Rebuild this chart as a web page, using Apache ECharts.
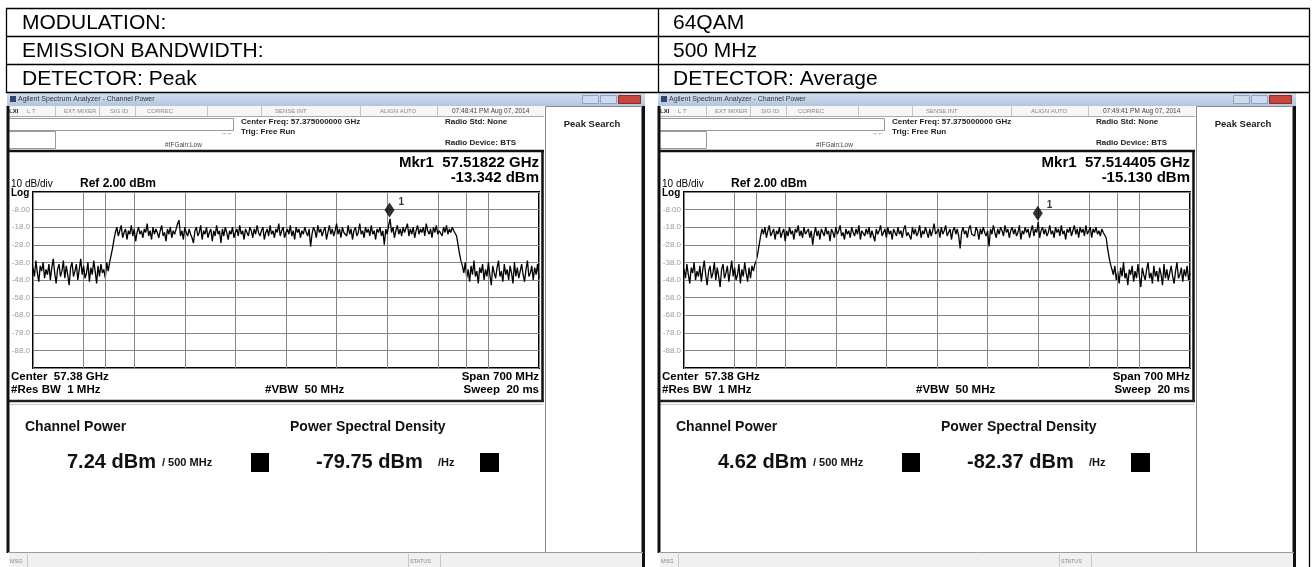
<!DOCTYPE html>
<html><head><meta charset="utf-8">
<script src="https://cdn.jsdelivr.net/npm/echarts@6/dist/echarts.min.js"></script>
<style>html,body{margin:0;padding:0;background:#fff}#c{width:1314px;height:567px}</style>
</head><body><div id="c"></div>
<script>
// ---------- DATA ----------
const headerLeft = ['MODULATION:', 'EMISSION BANDWIDTH:', 'DETECTOR: Peak'];
const headerRight = ['64QAM', '500 MHz', 'DETECTOR: Average'];
const centerMHz = 57375;
const spanMHz = 700;
const freqStartMHz = 57025;
const freqStepMHz = 2;
const integBwMHz = 500;
const refLevel = 2;
const dbPerDiv = 10;
const yTickLabels = ['-8.00', '-18.0', '-28.0', '-38.0', '-48.0', '-58.0', '-68.0', '-78.0', '-88.0'];

// Peak detector trace (dBm), 351 points, 2 MHz apart across the 700 MHz span
const peakTrace = [
  -41,-46,-37,-44,-49,-40,-43,-38,-47,-42,
  -45,-39,-48,-41,-36,-44,-50,-42,-39,-46,
  -43,-37,-47,-40,-45,-51,-41,-38,-46,-43,
  -39,-48,-42,-36,-45,-40,-47,-44,-38,-49,
  -41,-45,-37,-43,-50,-40,-46,-39,-44,-42,
  -47,-38,-43,
  -38,-34,-30,-25,-21,
  -18,-23,-20,-17,-24,-21,-19,-25,-20,-22,
  -17,-23,-19,-26,-21,-18,-22,-20,-24,-19,
  -21,-16,-23,-20,-25,-18,-22,-19,-21,-24,
  -20,-17,-23,-21,-26,-19,-22,-18,-24,-20,
  -22,-19,-16,-14,-23,-20,-25,-18,-21,-23,
  -19,-22,-24,-27,-20,-18,-23,-21,-17,-25,
  -20,-22,-18,-24,-21,-19,-26,-20,-23,-17,
  -22,-20,-27,-19,-23,-18,-21,-25,-20,-22,
  -18,-24,-21,-19,-23,-17,-22,-20,-25,-19,
  -21,-23,-18,-20,-24,-19,-22,-17,-21,-23,
  -20,-18,-25,-21,-19,-23,-17,-22,-20,-24,
  -19,-21,-16,-23,-20,-18,-24,-21,-19,-22,
  -17,-23,-20,-25,-18,-21,-19,-24,-20,-22,
  -18,-21,-23,-19,-29,-22,-18,-20,-24,-17,
  -21,-19,-23,-20,-18,-25,-21,-17,-22,-19,
  -23,-20,-16,-22,-19,-24,-18,-21,-20,-23,
  -17,-22,-19,-25,-20,-18,-23,-21,-16,-22,
  -20,-24,-18,-21,-19,-23,-17,-22,-20,-25,
  -19,-21,-18,-23,-20,-28,-19,-22,-17,-13.3,
  -21,-18,-24,-20,-17,-22,-19,-23,-18,-21,
  -20,-16,-23,-19,-22,-18,-24,-20,-17,-22,
  -19,-21,-18,-23,-16,-20,-22,-19,-24,-18,
  -21,-17,-22,-20,-19,-23,-18,-21,-17,-22,
  -19,-21,-18,-20,-19,
  -23,-28,-33,-37,-40,
  -44,-38,-47,-42,-49,-40,-45,-37,-46,-43,
  -50,-41,-44,-39,-48,-42,-46,-38,-45,-51,
  -40,-44,-47,-41,-37,-46,-43,-49,-39,-45,
  -42,-48,-40,-44,-50,-38,-46,-41,-47,-43,
  -39,-45,-49,-42,-37,-46,-44,-40,-48,-41,
  -45,-39,-47
];

// Average detector trace (dBm), 351 points, 2 MHz apart across the 700 MHz span
const avgTrace = [
  -42,-47,-39,-45,-50,-41,-44,-38,-48,-43,
  -46,-40,-49,-42,-37,-45,-51,-43,-40,-47,
  -44,-38,-48,-41,-46,-52,-42,-39,-47,-44,
  -40,-49,-43,-37,-46,-41,-48,-45,-39,-50,
  -42,-46,-38,-44,-49,-41,-47,-40,-43,-39,
  -37,-33,-28,-23,-19,
  -22,-18,-24,-20,-17,-23,-21,-19,-25,-20,
  -22,-18,-24,-21,-19,-26,-20,-23,-18,-22,
  -20,-25,-19,-21,-17,-23,-20,-24,-18,-22,
  -21,-19,-24,-20,-28,-22,-18,-23,-20,-25,
  -19,-21,-23,-18,-22,-20,-26,-19,-21,-24,
  -18,-22,-20,-17,-23,-21,-25,-19,-22,-20,
  -24,-18,-21,-23,-19,-22,-17,-25,-20,-21,
  -23,-19,-22,-18,-24,-20,-21,-26,-19,-22,
  -20,-17,-23,-21,-19,-24,-18,-22,-20,-25,
  -19,-21,-23,-18,-22,-20,-24,-19,-17,-23,
  -21,-20,-25,-18,-22,-19,-23,-21,-17,-24,
  -20,-22,-18,-21,-24,-19,-23,-20,-16,-22,
  -21,-19,-24,-18,-22,-20,-17,-23,-21,-19,
  -25,-20,-18,-22,-19,-23,-30,-21,-18,-22,
  -20,-24,-19,-17,-22,-21,-23,-18,-20,-25,
  -19,-22,-18,-21,-23,-20,-29,-19,-22,-17,
  -21,-24,-19,-22,-18,-20,-23,-17,-21,-19,
  -24,-20,-18,-22,-19,-23,-21,-17,-25,-20,
  -22,-18,-21,-19,-24,-20,-17,-23,-19,-21,
  -15.1,-24,-20,-18,-22,-19,-23,-21,-17,-22,
  -20,-24,-18,-21,-19,-23,-17,-22,-20,-25,
  -19,-21,-18,-23,-20,-17,-22,-19,-24,-18,
  -21,-19,-23,-17,-22,-20,-18,-24,-19,-21,
  -18,-22,-20,-23,-19,-21,-20,
  -24,-30,-35,-39,-42,
  -45,-40,-48,-43,-50,-41,-46,-38,-47,-44,
  -51,-42,-45,-40,-49,-43,-47,-39,-46,-52,
  -41,-45,-48,-42,-38,-47,-44,-50,-40,-46,
  -43,-49,-41,-45,-51,-39,-47,-42,-48,-44,
  -40,-46,-50,-43,-38,-47,-45,-41,-49,-42,
  -46,-40,-48,-44
];

const markerFreqMHz = [57518.22, 57514.405];
const markerLevel = [-13.342, -15.130];
const markerFreqText = ['57.51822 GHz', '57.514405 GHz'];
const markerLevelText = ['-13.342 dBm', '-15.130 dBm'];
const timestamps = ['07:48:41 PM Aug 07, 2014', '07:49:41 PM Aug 07, 2014'];
const channelPower = ['7.24 dBm', '4.62 dBm'];
const powerSpectralDensity = ['-79.75 dBm', '-82.37 dBm'];
const statusItems = ['L T', 'EXT MIXER', 'SIG ID', 'CORREC', 'SENSE:INT', 'ALIGN AUTO'];

// ---------- LAYOUT ----------
const FONT = '"Liberation Sans", Arial, Helvetica, sans-serif';
const panelX = [0, 651];
const GRID = { left: 33, top: 192, width: 506, height: 176 };

function txt(x, y, s, size, o) {
  o = o || {};
  return { type: 'text', x: x, y: y, silent: true, z: 20,
    style: { text: s, font: (o.bold ? 'bold ' : '') + size + 'px ' + FONT, fill: o.color || '#000',
      textAlign: o.align || 'left', textVerticalAlign: 'middle' } };
}
function rect(x, y, w, h, fill, stroke, lw, z) {
  return { type: 'rect', silent: true, z: z == null ? 5 : z, shape: { x: x, y: y, width: w, height: h },
    style: { fill: fill || 'rgba(0,0,0,0)', stroke: stroke || null, lineWidth: lw || 1 } };
}
function line(x1, y1, x2, y2, color, lw, z) {
  return { type: 'line', silent: true, z: z == null ? 6 : z, shape: { x1: x1, y1: y1, x2: x2, y2: y2 },
    style: { stroke: color, lineWidth: lw || 1 } };
}

const elements = [];
// header table
[8.5, 36.5, 64.5, 92.5].forEach(y => elements.push(line(6, y, 1310, y, '#000', 1.3)));
elements.push(line(6.5, 8, 6.5, 93, '#000', 1.3));
elements.push(line(658.5, 8, 658.5, 93, '#000', 1.3));
elements.push(line(1309.5, 8, 1309.5, 567, '#000', 1.3));
headerLeft.forEach((s, i) => elements.push(txt(22, 23 + i * 28, s, 21)));
headerRight.forEach((s, i) => elements.push(txt(673, 23 + i * 28, s, 21)));

function panel(p) {
  const o = panelX[p];
  const X = v => v + o;
  // window title bar
  elements.push({ type: 'rect', silent: true, z: 5, shape: { x: X(7), y: 93, width: 638, height: 13 },
    style: { fill: { type: 'linear', x: 0, y: 0, x2: 0, y2: 1, colorStops: [{ offset: 0, color: '#d3dff0' }, { offset: 1, color: '#b1c5df' }] } } });
  elements.push(rect(X(10), 96, 6, 6, '#34466a', null, 1, 7));
  elements.push(txt(X(18), 99.5, 'Agilent Spectrum Analyzer - Channel Power', 7, { color: '#333' }));
  elements.push(rect(X(582.5), 95.5, 16, 8, '#cfdcee', '#8ea3c2', 1, 7));
  elements.push(rect(X(600.5), 95.5, 16, 8, '#cfdcee', '#8ea3c2', 1, 7));
  elements.push(rect(X(618.5), 95.5, 22, 8, '#c9463d', '#8a2a24', 1, 7));
  // status row
  elements.push(rect(X(8), 106, 536, 10, '#f6f6f6', null, 1, 5));
  elements.push(line(X(8), 116.5, X(544), 116.5, '#aaa', 1));
  elements.push(txt(X(9), 111, 'LXI', 6, { bold: true, color: '#222' }));
  const sx = [27, 64, 110, 147, 275, 380];
  statusItems.forEach((s, i) => elements.push(txt(X(sx[i]), 111, s, 6, { color: '#888' })));
  [55, 99, 135, 207, 261, 360, 437].forEach(x => elements.push(line(X(x + 0.5), 106, X(x + 0.5), 116, '#c4c4c4', 1)));
  elements.push(txt(X(452), 111, timestamps[p], 6.5, { color: '#444' }));
  // info area
  elements.push(rect(X(8.5), 118.5, 225, 12, '#fff', '#9a9a9a', 1, 6));
  elements.push(rect(X(8.5), 131.5, 47, 17, '#fff', '#9a9a9a', 1, 6));
  elements.push(txt(X(241), 122, 'Center Freq: 57.375000000 GHz', 8, { bold: true, color: '#222' }));
  elements.push(txt(X(241), 132, 'Trig: Free Run', 8, { bold: true, color: '#222' }));
  elements.push(txt(X(221), 133, '→←', 6, { color: '#333' }));
  elements.push(txt(X(165), 145, '#IFGain:Low', 6.5, { color: '#444' }));
  elements.push(txt(X(445), 122, 'Radio Std: None', 8, { bold: true, color: '#222' }));
  elements.push(txt(X(445), 143, 'Radio Device: BTS', 8, { bold: true, color: '#222' }));
  // softkey panel
  elements.push(rect(X(545.5), 106.5, 96, 446, '#fff', '#8a8a8a', 1, 5));
  elements.push(txt(X(592), 124, 'Peak Search', 9.5, { bold: true, align: 'center', color: '#222' }));
  // plot frame
  elements.push(line(X(7), 151, X(544), 151, '#111', 2.5));
  elements.push(line(X(542.5), 151, X(542.5), 401, '#111', 2.5));
  elements.push(line(X(7), 401, X(544), 401, '#222', 2.5));
  elements.push(line(X(8), 404.5, X(543), 404.5, '#c8c8c8', 1));
  // window borders
  elements.push(line(X(8), 106, X(8), 553, '#111', 3));
  elements.push(line(X(643.5), 106, X(643.5), 567, '#111', 3));
  // marker readout
  elements.push(txt(X(539), 163, 'Mkr1  ' + markerFreqText[p], 15, { bold: true, align: 'right' }));
  elements.push(txt(X(539), 178, markerLevelText[p], 15, { bold: true, align: 'right' }));
  elements.push(txt(X(11), 184, dbPerDiv + ' dB/div', 10));
  elements.push(txt(X(80), 184, 'Ref ' + refLevel.toFixed(2) + ' dBm', 12, { bold: true }));
  elements.push(txt(X(11), 193, 'Log', 10, { bold: true }));
  // below-grid annotations
  elements.push(txt(X(11), 377, 'Center  57.38 GHz', 11.5, { bold: true }));
  elements.push(txt(X(539), 377, 'Span ' + spanMHz + ' MHz', 11.5, { bold: true, align: 'right' }));
  elements.push(txt(X(11), 390, '#Res BW  1 MHz', 11.5, { bold: true }));
  elements.push(txt(X(265), 390, '#VBW  50 MHz', 11.5, { bold: true }));
  elements.push(txt(X(539), 390, 'Sweep  20 ms', 11.5, { bold: true, align: 'right' }));
  // results
  elements.push(txt(X(25), 427, 'Channel Power', 14, { bold: true, color: '#111' }));
  elements.push(txt(X(290), 427, 'Power Spectral Density', 14, { bold: true, color: '#111' }));
  elements.push(txt(X(67), 462, channelPower[p], 20, { bold: true, color: '#111' }));
  elements.push(txt(X(162), 463, '/ ' + integBwMHz + ' MHz', 11, { bold: true, color: '#111' }));
  elements.push(rect(X(251), 453, 18, 19, '#000', null, 1, 7));
  elements.push(txt(X(316), 462, powerSpectralDensity[p], 20, { bold: true, color: '#111' }));
  elements.push(txt(X(438), 463, '/Hz', 11, { bold: true, color: '#111' }));
  elements.push(rect(X(480), 453, 19, 19, '#000', null, 1, 7));
  // message bar
  elements.push(line(X(8), 552.5, X(643), 552.5, '#9a9a9a', 1));
  elements.push(rect(X(9), 553, 633, 14, '#f0f0f0', null, 1, 5));
  elements.push(txt(X(10), 561, 'MSG', 5.5, { color: '#888' }));
  elements.push(txt(X(410), 561, 'STATUS', 5.5, { color: '#888' }));
  [27, 408, 440].forEach(x => elements.push(line(X(x + 0.5), 554, X(x + 0.5), 567, '#c8c8c8', 1)));
}
panel(0);
panel(1);

// ---------- CHART ----------
const grids = panelX.map(o => ({ left: GRID.left + o, top: GRID.top, width: GRID.width, height: GRID.height,
  show: true, borderColor: '#000', borderWidth: 2, backgroundColor: 'transparent' }));
const splitGray = { show: true, lineStyle: { color: '#858585', width: 1, type: 'solid' } };
const xAxes = panelX.map((o, i) => ({ gridIndex: i, type: 'value', min: freqStartMHz, max: freqStartMHz + spanMHz,
  interval: spanMHz / 10, axisLine: { show: false }, axisTick: { show: false }, axisLabel: { show: false }, splitLine: splitGray }));
const yAxes = panelX.map((o, i) => ({ gridIndex: i, type: 'value', min: refLevel - 10 * dbPerDiv, max: refLevel,
  interval: dbPerDiv, axisLine: { show: false }, axisTick: { show: false }, splitLine: splitGray,
  axisLabel: { color: '#9a9a9a', fontSize: 8, fontFamily: FONT, margin: 3,
    formatter: v => yTickLabels[Math.round((refLevel - dbPerDiv - v) / dbPerDiv)] || '' } }));

const traces = [peakTrace, avgTrace];
const series = [];
traces.forEach((tr, i) => {
  series.push({ type: 'line', xAxisIndex: i, yAxisIndex: i, silent: true, animation: false,
    showSymbol: false, symbol: 'none', z: 3,
    data: tr.map((v, k) => [freqStartMHz + k * freqStepMHz, v]),
    lineStyle: { color: '#000', width: 1.3 },
    markLine: { silent: true, symbol: 'none', animation: false, label: { show: false },
      lineStyle: { color: '#858585', type: 'solid', width: 1 },
      data: [{ xAxis: centerMHz - integBwMHz / 2 }, { xAxis: centerMHz + integBwMHz / 2 }] } });
  series.push({ type: 'scatter', xAxisIndex: i, yAxisIndex: i, silent: true, animation: false, z: 4,
    data: [[markerFreqMHz[i], markerLevel[i]]], symbol: 'diamond', symbolSize: [10, 15], symbolOffset: [0, -9],
    itemStyle: { color: '#000' },
    label: { show: true, formatter: '1', position: 'right', offset: [-1, -8], fontSize: 10, fontWeight: 'bold', color: '#000', fontFamily: FONT } });
});

const chart = echarts.init(document.getElementById('c'), null, { renderer: 'canvas' });
chart.setOption({
  animation: false,
  backgroundColor: '#fff',
  grid: grids, xAxis: xAxes, yAxis: yAxes, series: series,
  graphic: { elements: elements }
});
</script>
</body></html>
